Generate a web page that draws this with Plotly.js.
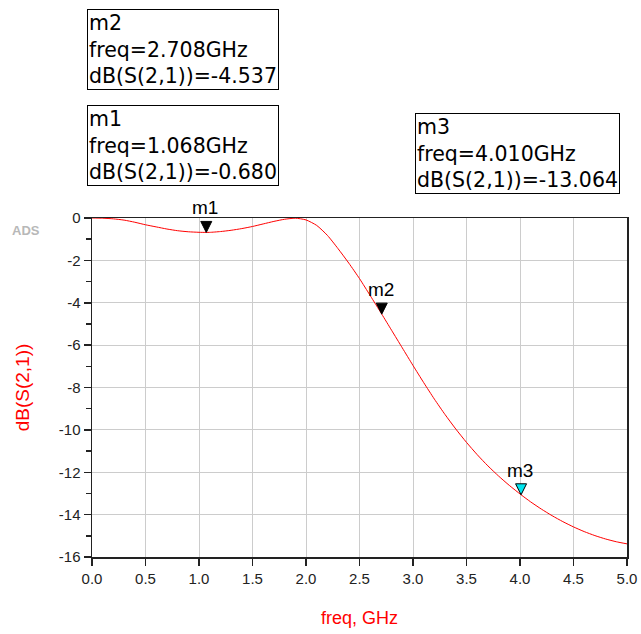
<!DOCTYPE html>
<html>
<head>
<meta charset="utf-8">
<script src="https://cdn.plot.ly/plotly-3.0.1.min.js"></script>
<style>html,body{margin:0;padding:0;background:#fff;}#chart{width:641px;height:634px;}</style>
</head>
<body>
<div id="chart"></div>
<script>
var freq = [0.0,0.1,0.2,0.3,0.4,0.5,0.6,0.7,0.8,0.9,1.0,1.068,1.1,1.2,1.3,1.4,1.5,1.6,1.7,1.8,1.9,2.0,2.1,2.2,2.3,2.4,2.5,2.6,2.708,2.8,2.9,3.0,3.1,3.2,3.3,3.4,3.5,3.6,3.7,3.8,3.9,4.01,4.1,4.2,4.3,4.4,4.5,4.6,4.7,4.8,4.9,5.0];
var s21dB = [0.0,-0.01,-0.04,-0.10,-0.20,-0.32,-0.42,-0.52,-0.60,-0.65,-0.675,-0.680,-0.678,-0.64,-0.58,-0.50,-0.40,-0.28,-0.16,-0.06,-0.01,-0.09,-0.35,-0.82,-1.45,-2.13,-2.86,-3.66,-4.537,-5.30,-6.13,-6.96,-7.77,-8.55,-9.28,-9.96,-10.59,-11.17,-11.70,-12.18,-12.62,-13.064,-13.40,-13.74,-14.05,-14.33,-14.58,-14.80,-14.99,-15.15,-15.28,-15.38];
var markerNames = ['m1','m2','m3'];
var markerFreq = [1.068, 2.708, 4.010];
var markerDb = [-0.680, -4.537, -13.064];
var markerColors = ['#000000','#000000','#00e5ee'];
var xTickVals = [0,0.5,1,1.5,2,2.5,3,3.5,4,4.5,5];
var xTickText = ['0.0','0.5','1.0','1.5','2.0','2.5','3.0','3.5','4.0','4.5','5.0'];
var yTickVals = [0,-2,-4,-6,-8,-10,-12,-14,-16];
var yTickText = ['0','-2','-4','-6','-8','-10','-12','-14','-16'];
var yMinorVals = [-1,-3,-5,-7,-9,-11,-13,-15];

var traces = [
  {x: freq, y: s21dB, type: 'scatter', mode: 'lines', line: {color: '#ff0000', width: 1, shape: 'spline', smoothing: 0.6}, showlegend: false}
];

var shapes = [];
var annotations = [];
for (var i = 0; i < markerNames.length; i++) {
  shapes.push({type: 'path', xref: 'x', yref: 'y', xsizemode: 'pixel', ysizemode: 'pixel',
    xanchor: markerFreq[i], yanchor: markerDb[i], path: 'M-5.5,11L5.5,11L0,0Z',
    fillcolor: markerColors[i], line: {color: '#000', width: 1}, layer: 'above'});
  annotations.push({x: markerFreq[i], y: markerDb[i], xref: 'x', yref: 'y', text: markerNames[i], showarrow: false,
    yanchor: 'bottom', yshift: 12, xshift: -1, font: {family: 'Liberation Sans, Arial, sans-serif', size: 19, color: '#000'}});
}
var boxFont = {family: 'DejaVu Sans, sans-serif', size: 20.5, color: '#000'};
var boxes = [
  {i: 1, left: -0.0095, top: 1.616},
  {i: 0, left: -0.0095, top: 1.332},
  {i: 2, left: 0.6045, top: 1.311}
];
boxes.forEach(function(b) {
  var f = markerFreq[b.i].toFixed(3);
  var d = markerDb[b.i].toFixed(3);
  annotations.push({xref: 'paper', yref: 'paper', x: b.left, y: b.top, xanchor: 'left', yanchor: 'top', align: 'left',
    showarrow: false, bordercolor: '#000', borderwidth: 1, borderpad: 1, bgcolor: '#fff', font: boxFont,
    text: markerNames[b.i] + '<br>freq=' + f + 'GHz<br>dB(S(2,1))=' + d});
});
annotations.push({xref: 'paper', yref: 'paper', x: -0.123, y: 0.963, xanchor: 'center', yanchor: 'middle', showarrow: false,
  text: '<b>ADS</b>', font: {family: 'Liberation Sans, Arial, sans-serif', size: 13, color: '#b8b8b8'}});

var layout = {
  width: 641, height: 634,
  margin: {l: 92, r: 14, t: 218, b: 77, pad: 0},
  paper_bgcolor: '#fff', plot_bgcolor: '#fff',
  font: {family: 'Liberation Sans, Arial, sans-serif', size: 15, color: '#222'},
  showlegend: false,
  xaxis: {range: [0, 5], tickvals: xTickVals, ticktext: xTickText, ticks: 'outside', ticklen: 7, tickwidth: 1.5, tickcolor: '#222',
    showgrid: true, gridcolor: '#cccccc', gridwidth: 1, showline: true, linecolor: '#222', linewidth: 1.5, mirror: true,
    zeroline: false, tickfont: {size: 15, color: '#222'},
    title: {text: 'freq, GHz', font: {size: 18, color: '#ff0000'}, standoff: 26}},
  yaxis: {range: [-16, 0], tickvals: yTickVals, ticktext: yTickText, ticks: 'outside', ticklen: 7, tickwidth: 1.5, tickcolor: '#222',
    minor: {tickvals: yMinorVals, ticks: 'outside', ticklen: 5, tickwidth: 1.5, tickcolor: '#222', showgrid: false},
    showgrid: true, gridcolor: '#cccccc', gridwidth: 1, showline: true, linecolor: '#222', linewidth: 1.5, mirror: true,
    zeroline: false, tickfont: {size: 15, color: '#222'},
    title: {text: 'dB(S(2,1))', font: {size: 19, color: '#ff0000'}, standoff: 24}},
  shapes: shapes,
  annotations: annotations
};
Plotly.newPlot('chart', traces, layout, {displayModeBar: false, staticPlot: true});
</script>
</body>
</html>
